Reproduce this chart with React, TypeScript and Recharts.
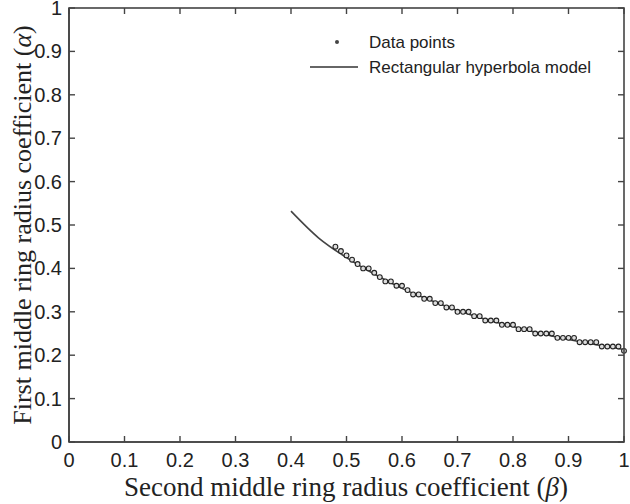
import React from "react"
import {
	ComposedChart,
	Scatter,
	Line,
	XAxis,
	YAxis,
} from "recharts"

// measured points, beta vs alpha
const BETA = [
	0.48, 0.49, 0.5, 0.51, 0.52, 0.53, 0.54, 0.55, 0.56, 0.57, 0.58, 0.59, 0.6, 0.61,
	0.62, 0.63, 0.64, 0.65, 0.66, 0.67, 0.68, 0.69, 0.7, 0.71, 0.72, 0.73, 0.74, 0.75,
	0.76, 0.77, 0.78, 0.79, 0.8, 0.81, 0.82, 0.83, 0.84, 0.85, 0.86, 0.87, 0.88, 0.89,
	0.9, 0.91, 0.92, 0.93, 0.94, 0.95, 0.96, 0.97, 0.98, 0.99, 1.0,
]
const ALPHA = [
	0.45, 0.44, 0.43, 0.42, 0.41, 0.4, 0.4, 0.39, 0.38, 0.37, 0.37, 0.36, 0.36, 0.35,
	0.34, 0.34, 0.33, 0.33, 0.32, 0.32, 0.31, 0.31, 0.3, 0.3, 0.3, 0.29, 0.29, 0.28,
	0.28, 0.28, 0.27, 0.27, 0.27, 0.26, 0.26, 0.26, 0.25, 0.25, 0.25, 0.25, 0.24, 0.24,
	0.24, 0.24, 0.23, 0.23, 0.23, 0.23, 0.22, 0.22, 0.22, 0.22, 0.21,
]

// model curve
const MODEL_BETA = [0.4, 0.45, 0.5, 0.55, 0.6, 0.65, 0.7, 0.75, 0.8, 0.85, 0.9, 0.95, 1.0]
const MODEL_ALPHA = [0.532, 0.47, 0.425, 0.387, 0.354, 0.327, 0.303, 0.283, 0.266, 0.25, 0.236, 0.224, 0.213]

const TICKS = [0, 0.1, 0.2, 0.3, 0.4, 0.5, 0.6, 0.7, 0.8, 0.9, 1]

const points = BETA.map((b, i) => ({ beta: b, alpha: ALPHA[i] }))
const model = MODEL_BETA.map((b, i) => ({ beta: b, alpha: MODEL_ALPHA[i] }))

// plot box inside the 630x504 chart
const TOP = 8
const RIGHT = 6
const LEFT_W = 69
const BOTTOM_H = 62
const PLOT_L = LEFT_W
const PLOT_R = 630 - RIGHT
const PLOT_T = TOP
const PLOT_B = 504 - BOTTOM_H

const INK = "#222"
const FRAME = "#444"
const TICK_FONT = "'Liberation Sans', Arial, sans-serif"
const TITLE_FONT = "'Liberation Serif', 'Times New Roman', serif"

const fmt = (v: number) => (v === 0 || v === 1 ? String(v) : v.toFixed(1))

function BottomTick({ x, y, payload }: any) {
	return (
		<text x={x} y={y + 25} textAnchor="middle" fontSize={20} fontFamily={TICK_FONT} fill={INK}>
			{fmt(payload.value)}
		</text>
	)
}

function LeftTick({ x, y, payload }: any) {
	return (
		<text x={x - 7} y={y + 7} textAnchor="end" fontSize={20} fontFamily={TICK_FONT} fill={INK}>
			{fmt(payload.value)}
		</text>
	)
}

function Dot({ cx, cy }: any) {
	return <circle cx={cx} cy={cy} r={2.4} fill="#ddd" stroke={INK} strokeWidth={1.1} />
}

// box frame with inward ticks on all four sides
function Frame() {
	const w = PLOT_R - PLOT_L
	const h = PLOT_B - PLOT_T
	return (
		<svg
			width={630}
			height={504}
			style={{ position: "absolute", left: 0, top: 0, pointerEvents: "none" }}
		>
			<rect x={PLOT_L} y={PLOT_T} width={w} height={h} fill="none" stroke={FRAME} strokeWidth={1.6} />
			{TICKS.map((t) => {
				const x = PLOT_L + t * w
				const y = PLOT_B - t * h
				return (
					<g key={t}>
						<line x1={x} x2={x} y1={PLOT_B} y2={PLOT_B - 6} stroke={FRAME} strokeWidth={1.4} />
						<line x1={x} x2={x} y1={PLOT_T} y2={PLOT_T + 6} stroke={FRAME} strokeWidth={1.4} />
						<line x1={PLOT_L} x2={PLOT_L + 6} y1={y} y2={y} stroke={FRAME} strokeWidth={1.4} />
						<line x1={PLOT_R} x2={PLOT_R - 6} y1={y} y2={y} stroke={FRAME} strokeWidth={1.4} />
					</g>
				)
			})}
			<circle cx={337} cy={42} r={2} fill="#444" />
			<text x={369} y={48} fontSize={17} fontFamily={TICK_FONT} fill={INK}>Data points</text>
			<line x1={310} x2={358} y1={67} y2={67} stroke="#333" strokeWidth={1.4} />
			<text x={369} y={73} fontSize={17} fontFamily={TICK_FONT} fill={INK}>Rectangular hyperbola model</text>
			<text x={346} y={496} textAnchor="middle" fontSize={27} fontFamily={TITLE_FONT} fill={INK}>
				Second middle ring radius coefficient (<tspan fontStyle="italic">β</tspan>)
			</text>
			<text
				x={22}
				y={225}
				transform="rotate(-90, 22, 225)"
				textAnchor="middle"
				dominantBaseline="central"
				fontSize={26}
				fontFamily={TITLE_FONT}
				fill={INK}
			>
				First middle ring radius coefficient (<tspan fontStyle="italic">α</tspan>)
			</text>
		</svg>
	)
}

export default function App() {
	return (
		<div style={{ position: "absolute", left: 0, top: 0, width: 630, height: 504 }}>
			<ComposedChart width={630} height={504} margin={{ top: TOP, right: RIGHT, bottom: 0, left: 0 }}>
				<XAxis
					dataKey="beta"
					type="number"
					domain={[0, 1]}
					ticks={TICKS}
					interval={0}
					height={BOTTOM_H}
					tickSize={0}
					tickMargin={0}
					tickLine={false}
					tick={<BottomTick />}
					axisLine={{ stroke: FRAME, strokeWidth: 1.6 }}
				/>
				<YAxis
					dataKey="alpha"
					type="number"
					domain={[0, 1]}
					ticks={TICKS}
					interval={0}
					width={LEFT_W}
					tickSize={0}
					tickMargin={0}
					tickLine={false}
					tick={<LeftTick />}
					axisLine={{ stroke: FRAME, strokeWidth: 1.6 }}
				/>
				<Line
					data={model}
					dataKey="alpha"
					type="monotone"
					stroke="#444"
					strokeWidth={1.6}
					dot={false}
					isAnimationActive={false}
					name="Rectangular hyperbola model"
				/>
				<Scatter
					data={points}
					dataKey="alpha"
					shape={<Dot />}
					isAnimationActive={false}
					name="Data points"
				/>
			</ComposedChart>
			<Frame />
		</div>
	)
}
